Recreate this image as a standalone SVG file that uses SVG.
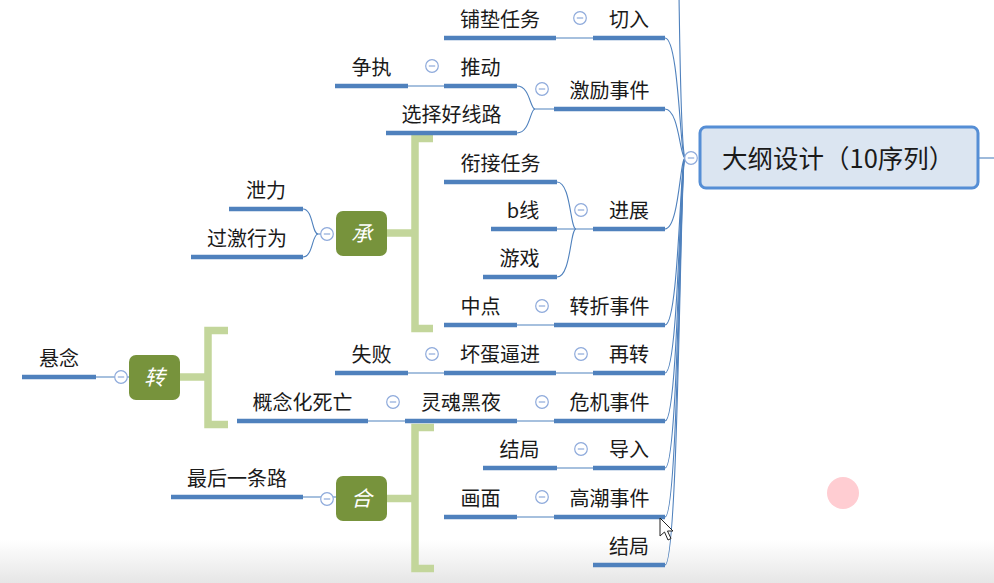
<svg xmlns="http://www.w3.org/2000/svg" width="994" height="583" viewBox="0 0 994 583">
<style>
.ul{stroke:#4f81bd;stroke-width:4.5;fill:none}
.ln{fill:none;stroke:#4f81bd;stroke-width:1.1}
.t{font-family:"Noto Sans CJK SC","Microsoft YaHei",sans-serif;font-size:20px;fill:#1a1a1a;text-anchor:middle}
.tw{font-family:"Noto Sans CJK SC",sans-serif;font-size:21px;fill:#ffffff;text-anchor:middle;font-style:italic}
.br{fill:none;stroke:#c3d69b;stroke-width:7.5}
.nd{fill:#77933c}
</style>
<defs>
<g id="cc"><circle r="6.3" fill="#ffffff" stroke="#8eaadb" stroke-width="1.2"/><line x1="-3.2" y1="0" x2="3.2" y2="0" stroke="#8eaadb" stroke-width="1.2"/></g>
<linearGradient id="bg" x1="0" y1="0" x2="0" y2="1"><stop offset="0" stop-color="#ffffff"/><stop offset="1" stop-color="#e6e6e6"/></linearGradient>
</defs>
<rect width="994" height="583" fill="#ffffff"/>
<rect x="0" y="540" width="994" height="43" fill="url(#bg)"/>
<circle cx="843" cy="493" r="16" fill="#ffcdd2"/>

<g id="connectors">
<path class="ln" d="M685,158 C681,150 680,60 679,-5"/>
<path class="ln" d="M685,158 C680,158 679,38 665,38"/>
<path class="ln" d="M685,158 C680,158 679,109 665,109"/>
<path class="ln" d="M685,158 C680,158 679,229 665,229"/>
<path class="ln" d="M685,158 C680,158 679,325 665,325"/>
<path class="ln" d="M685,158 C680,158 679,373 665,373"/>
<path class="ln" d="M685,158 C680,158 679,421 665,421"/>
<path class="ln" d="M685,158 C680,158 679,468 665,468"/>
<path class="ln" d="M685,158 C680,158 679,517 665,517"/>
<path class="ln" d="M685,158 C680,158 679,565 665,565"/>
<path class="ln" d="M978,158 H994"/>
<path class="ln" d="M556,38 H593"/>
<path class="ln" d="M408,86 H444"/>
<path class="ln" d="M554,109 H535 C530,109 530,86 517,86"/>
<path class="ln" d="M535,109 C530,109 530,133 517,133"/>
<path class="ln" d="M321,234 H318 C312,234 313,209 303,209"/>
<path class="ln" d="M318,234 C312,234 313,257 303,257"/>
<path class="ln" d="M557,229 H593"/>
<path class="ln" d="M576,229 C570,229 571,182 557,182"/>
<path class="ln" d="M576,229 C570,229 571,277 557,277"/>
<path class="ln" d="M517,325 H554"/>
<path class="ln" d="M96,377 H129"/>
<path class="ln" d="M408,373 H444"/>
<path class="ln" d="M556,373 H593"/>
<path class="ln" d="M368,421 H405"/>
<path class="ln" d="M517,421 H554"/>
<path class="ln" d="M303,497 H336"/>
<path class="ln" d="M557,468 H593"/>
<path class="ln" d="M517,517 H554"/>
<path class="br" d="M433,138.5 H415 V328.5 H433 M387,233 H415"/>
<path class="br" d="M228,330.5 H208 V424.5 H228 M180,377 H208"/>
<path class="br" d="M434,427.5 H415 V568.5 H434 M387,498.5 H415"/>
</g>

<g id="root">
<rect x="700" y="127" width="278" height="61" rx="6" fill="#dbe5f1" stroke="#558ed5" stroke-width="3"/>
<text x="722" y="168" style="font-family:'Noto Sans CJK SC','Microsoft YaHei',sans-serif;font-size:25.5px;fill:#1a1a1a">大纲设计（10序列）</text>
<use href="#cc" x="691" y="158"/>
</g>

<g id="n-qieru"><line class="ul" x1="593" y1="38" x2="665" y2="38"/><text class="t" x="629" y="27">切入</text><use href="#cc" x="580" y="18"/></g>
<g id="n-pudian"><line class="ul" x1="444" y1="38" x2="556" y2="38"/><text class="t" x="500" y="27">铺垫任务</text></g>

<g id="n-jili"><line class="ul" x1="554" y1="109" x2="665" y2="109"/><text class="t" x="609.5" y="98">激励事件</text><use href="#cc" x="542" y="89"/></g>
<g id="n-tuidong"><line class="ul" x1="444" y1="86" x2="517" y2="86"/><text class="t" x="480.5" y="75">推动</text><use href="#cc" x="432" y="66"/></g>
<g id="n-zhengzhi"><line class="ul" x1="335" y1="86" x2="408" y2="86"/><text class="t" x="371.5" y="75">争执</text></g>
<g id="n-xuanze"><line class="ul" x1="386" y1="133" x2="517" y2="133"/><text class="t" x="451.5" y="122">选择好线路</text></g>

<g id="n-cheng"><rect class="nd" x="336" y="211" width="51" height="45" rx="7"/><text class="tw" x="361.5" y="241">承</text><use href="#cc" x="327" y="234"/></g>
<g id="n-xieli"><line class="ul" x1="229" y1="209" x2="303" y2="209"/><text class="t" x="266" y="198">泄力</text></g>
<g id="n-guoji"><line class="ul" x1="191" y1="257" x2="303" y2="257"/><text class="t" x="247" y="246">过激行为</text></g>

<g id="n-jinzhan"><line class="ul" x1="593" y1="229" x2="665" y2="229"/><text class="t" x="629" y="218">进展</text><use href="#cc" x="581" y="210"/></g>
<g id="n-xianjie"><line class="ul" x1="444" y1="182" x2="557" y2="182"/><text class="t" x="500.5" y="171">衔接任务</text></g>
<g id="n-bxian"><line class="ul" x1="491" y1="229" x2="557" y2="229"/><text class="t" x="523" y="218">b线</text></g>
<g id="n-youxi"><line class="ul" x1="483" y1="277" x2="557" y2="277"/><text class="t" x="519.5" y="266">游戏</text></g>

<g id="n-zhuanzhe"><line class="ul" x1="554" y1="325" x2="665" y2="325"/><text class="t" x="609.5" y="314">转折事件</text><use href="#cc" x="542" y="306"/></g>
<g id="n-zhongdian"><line class="ul" x1="444" y1="325" x2="517" y2="325"/><text class="t" x="480.5" y="314">中点</text></g>

<g id="n-zhuan"><rect class="nd" x="129" y="355" width="51" height="45" rx="7"/><text class="tw" x="154.5" y="385">转</text><use href="#cc" x="121" y="377"/></g>
<g id="n-xuannian"><line class="ul" x1="22" y1="377" x2="96" y2="377"/><text class="t" x="59" y="366">悬念</text></g>

<g id="n-zaizhuan"><line class="ul" x1="593" y1="373" x2="665" y2="373"/><text class="t" x="629" y="362">再转</text><use href="#cc" x="581" y="354"/></g>
<g id="n-huaidan"><line class="ul" x1="444" y1="373" x2="556" y2="373"/><text class="t" x="500" y="362">坏蛋逼进</text><use href="#cc" x="432" y="354"/></g>
<g id="n-shibai"><line class="ul" x1="335" y1="373" x2="408" y2="373"/><text class="t" x="371.5" y="362">失败</text></g>

<g id="n-weiji"><line class="ul" x1="554" y1="421" x2="665" y2="421"/><text class="t" x="609.5" y="410">危机事件</text><use href="#cc" x="542" y="402"/></g>
<g id="n-linghun"><line class="ul" x1="405" y1="421" x2="517" y2="421"/><text class="t" x="461" y="410">灵魂黑夜</text><use href="#cc" x="393" y="402"/></g>
<g id="n-gainian"><line class="ul" x1="237" y1="421" x2="368" y2="421"/><text class="t" x="302.5" y="410">概念化死亡</text></g>

<g id="n-he"><rect class="nd" x="336" y="476" width="51" height="45" rx="7"/><text class="tw" x="361.5" y="506">合</text><use href="#cc" x="327" y="499"/></g>
<g id="n-zuihou"><line class="ul" x1="171" y1="497" x2="303" y2="497"/><text class="t" x="237" y="486">最后一条路</text></g>

<g id="n-daoru"><line class="ul" x1="593" y1="468" x2="665" y2="468"/><text class="t" x="629" y="457">导入</text><use href="#cc" x="581" y="449"/></g>
<g id="n-jieju1"><line class="ul" x1="483" y1="468" x2="557" y2="468"/><text class="t" x="519.5" y="457">结局</text></g>
<g id="n-gaochao"><line class="ul" x1="554" y1="517" x2="665" y2="517"/><text class="t" x="609.5" y="506">高潮事件</text><use href="#cc" x="542" y="497"/></g>
<g id="n-huamian"><line class="ul" x1="444" y1="517" x2="517" y2="517"/><text class="t" x="480.5" y="506">画面</text></g>
<g id="n-jieju2"><line class="ul" x1="593" y1="565" x2="665" y2="565"/><text class="t" x="629" y="554">结局</text></g>

<polygon points="660,518 660,536 664.5,532 668,540 671,538.5 667.5,531 673,531" fill="#ffffff" stroke="#222222" stroke-width="1"/>
</svg>
